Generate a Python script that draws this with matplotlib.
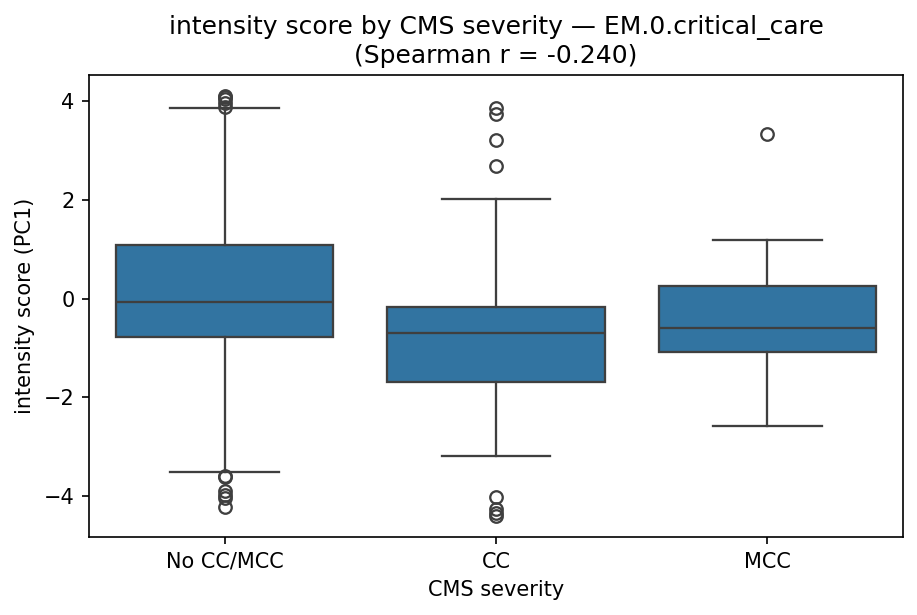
import matplotlib
matplotlib.use("Agg")
import matplotlib.pyplot as plt

categories = ["No CC/MCC", "CC", "MCC"]
q1 = [-0.77, -1.69, -1.08]
median = [-0.06, -0.70, -0.60]
q3 = [1.09, -0.18, 0.26]
whislo = [-3.51, -3.19, -2.58]
whishi = [3.85, 2.02, 1.18]
fliers = [
    [3.88, 3.95, 4.03, 4.07, 4.10, -3.59, -3.62, -3.89, -3.97, -4.03, -4.21],
    [3.85, 3.73, 3.21, 2.68, -4.01, -4.25, -4.33, -4.40],
    [3.33],
]

stats = []
for i, c in enumerate(categories):
    stats.append(dict(label=c, q1=q1[i], med=median[i], q3=q3[i],
                      whislo=whislo[i], whishi=whishi[i], fliers=fliers[i]))

line_c = "#3f3f3f"
fig = plt.figure(figsize=(917 / 150, 615 / 150), dpi=150)
ax = fig.add_axes([89 / 917, 1 - 537 / 615, (903 - 89) / 917, (537 - 75) / 615])
ax.bxp(stats, positions=range(len(categories)), widths=0.8, patch_artist=True,
       capwidths=0.4,
       boxprops=dict(facecolor="#3274a1", edgecolor=line_c, linewidth=1.1),
       medianprops=dict(color=line_c, linewidth=1.1),
       whiskerprops=dict(color=line_c, linewidth=1.1),
       capprops=dict(color=line_c, linewidth=1.1),
       flierprops=dict(marker="o", markerfacecolor="none", markeredgecolor=line_c,
                       markersize=6, markeredgewidth=1.1))
ax.set_xlim(-0.5, 2.5)
ax.set_ylim(-4.825, 4.525)
ax.set_xticks(range(len(categories)))
ax.set_xticklabels(categories)
ax.set_xlabel("CMS severity")
ax.set_ylabel("intensity score (PC1)")
ax.set_title("intensity score by CMS severity — EM.0.critical_care\n(Spearman r = -0.240)")
fig.savefig("out.png", dpi=150)
